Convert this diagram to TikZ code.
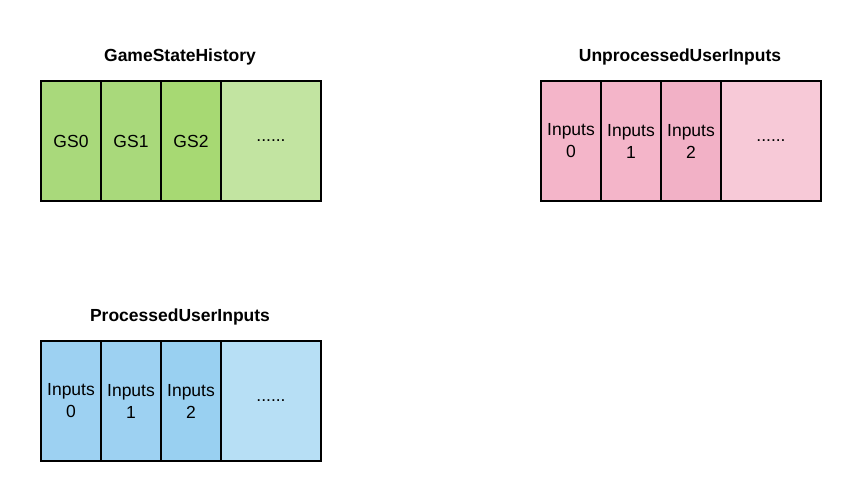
\documentclass[tikz,border=0pt]{standalone}
\usepackage{fontspec}
\setmainfont{Liberation Sans}
\definecolor{gA}{HTML}{A9D97B}
\definecolor{gB}{HTML}{A7D973}
\definecolor{gL}{HTML}{C2E4A1}
\definecolor{pA}{HTML}{F4B5C9}
\definecolor{pB}{HTML}{F2B1C6}
\definecolor{pL}{HTML}{F7C9D7}
\definecolor{bA}{HTML}{9DD1F2}
\definecolor{bB}{HTML}{99D0F1}
\definecolor{bL}{HTML}{B7DFF5}
\begin{document}
\begin{tikzpicture}[x=1pt,y=-1pt,
  cell/.style={draw=black,line width=2pt,minimum height=120pt,inner sep=0pt,anchor=north west,align=center,font=\fontsize{17.5}{22}\selectfont},
  sm/.style={cell,minimum width=60pt,text width=60pt},
  big/.style={cell,minimum width=100pt,text width=100pt},
  ttl/.style={font=\fontsize{17.5}{21}\selectfont\bfseries}]
\useasboundingbox (0,0) rectangle (860,500);
% GameStateHistory
\node[ttl] (t1) at (180,57) {GameStateHistory};
\node[sm,fill=gA] (g0) at (40,80) {GS0};
\node[sm,fill=gA] (g1) at (100,80) {GS1};
\node[sm,fill=gB] (g2) at (160,80) {GS2};
\node[big,fill=gL] (g3) at (220,80) {......};
% UnprocessedUserInputs
\node[ttl] (t2) at (680,57) {UnprocessedUserInputs};
\node[sm,fill=pA] (u0) at (540,80) {Inputs\\0};
\node[sm,fill=pA] (u1) at (600,80) {Inputs\\1};
\node[sm,fill=pB] (u2) at (660,80) {Inputs\\2};
\node[big,fill=pL] (u3) at (720,80) {......};
% ProcessedUserInputs
\node[ttl] (t3) at (180,317) {ProcessedUserInputs};
\node[sm,fill=bA] (p0) at (40,340) {Inputs\\0};
\node[sm,fill=bA] (p1) at (100,340) {Inputs\\1};
\node[sm,fill=bB] (p2) at (160,340) {Inputs\\2};
\node[big,fill=bL] (p3) at (220,340) {......};
\end{tikzpicture}
\end{document}
